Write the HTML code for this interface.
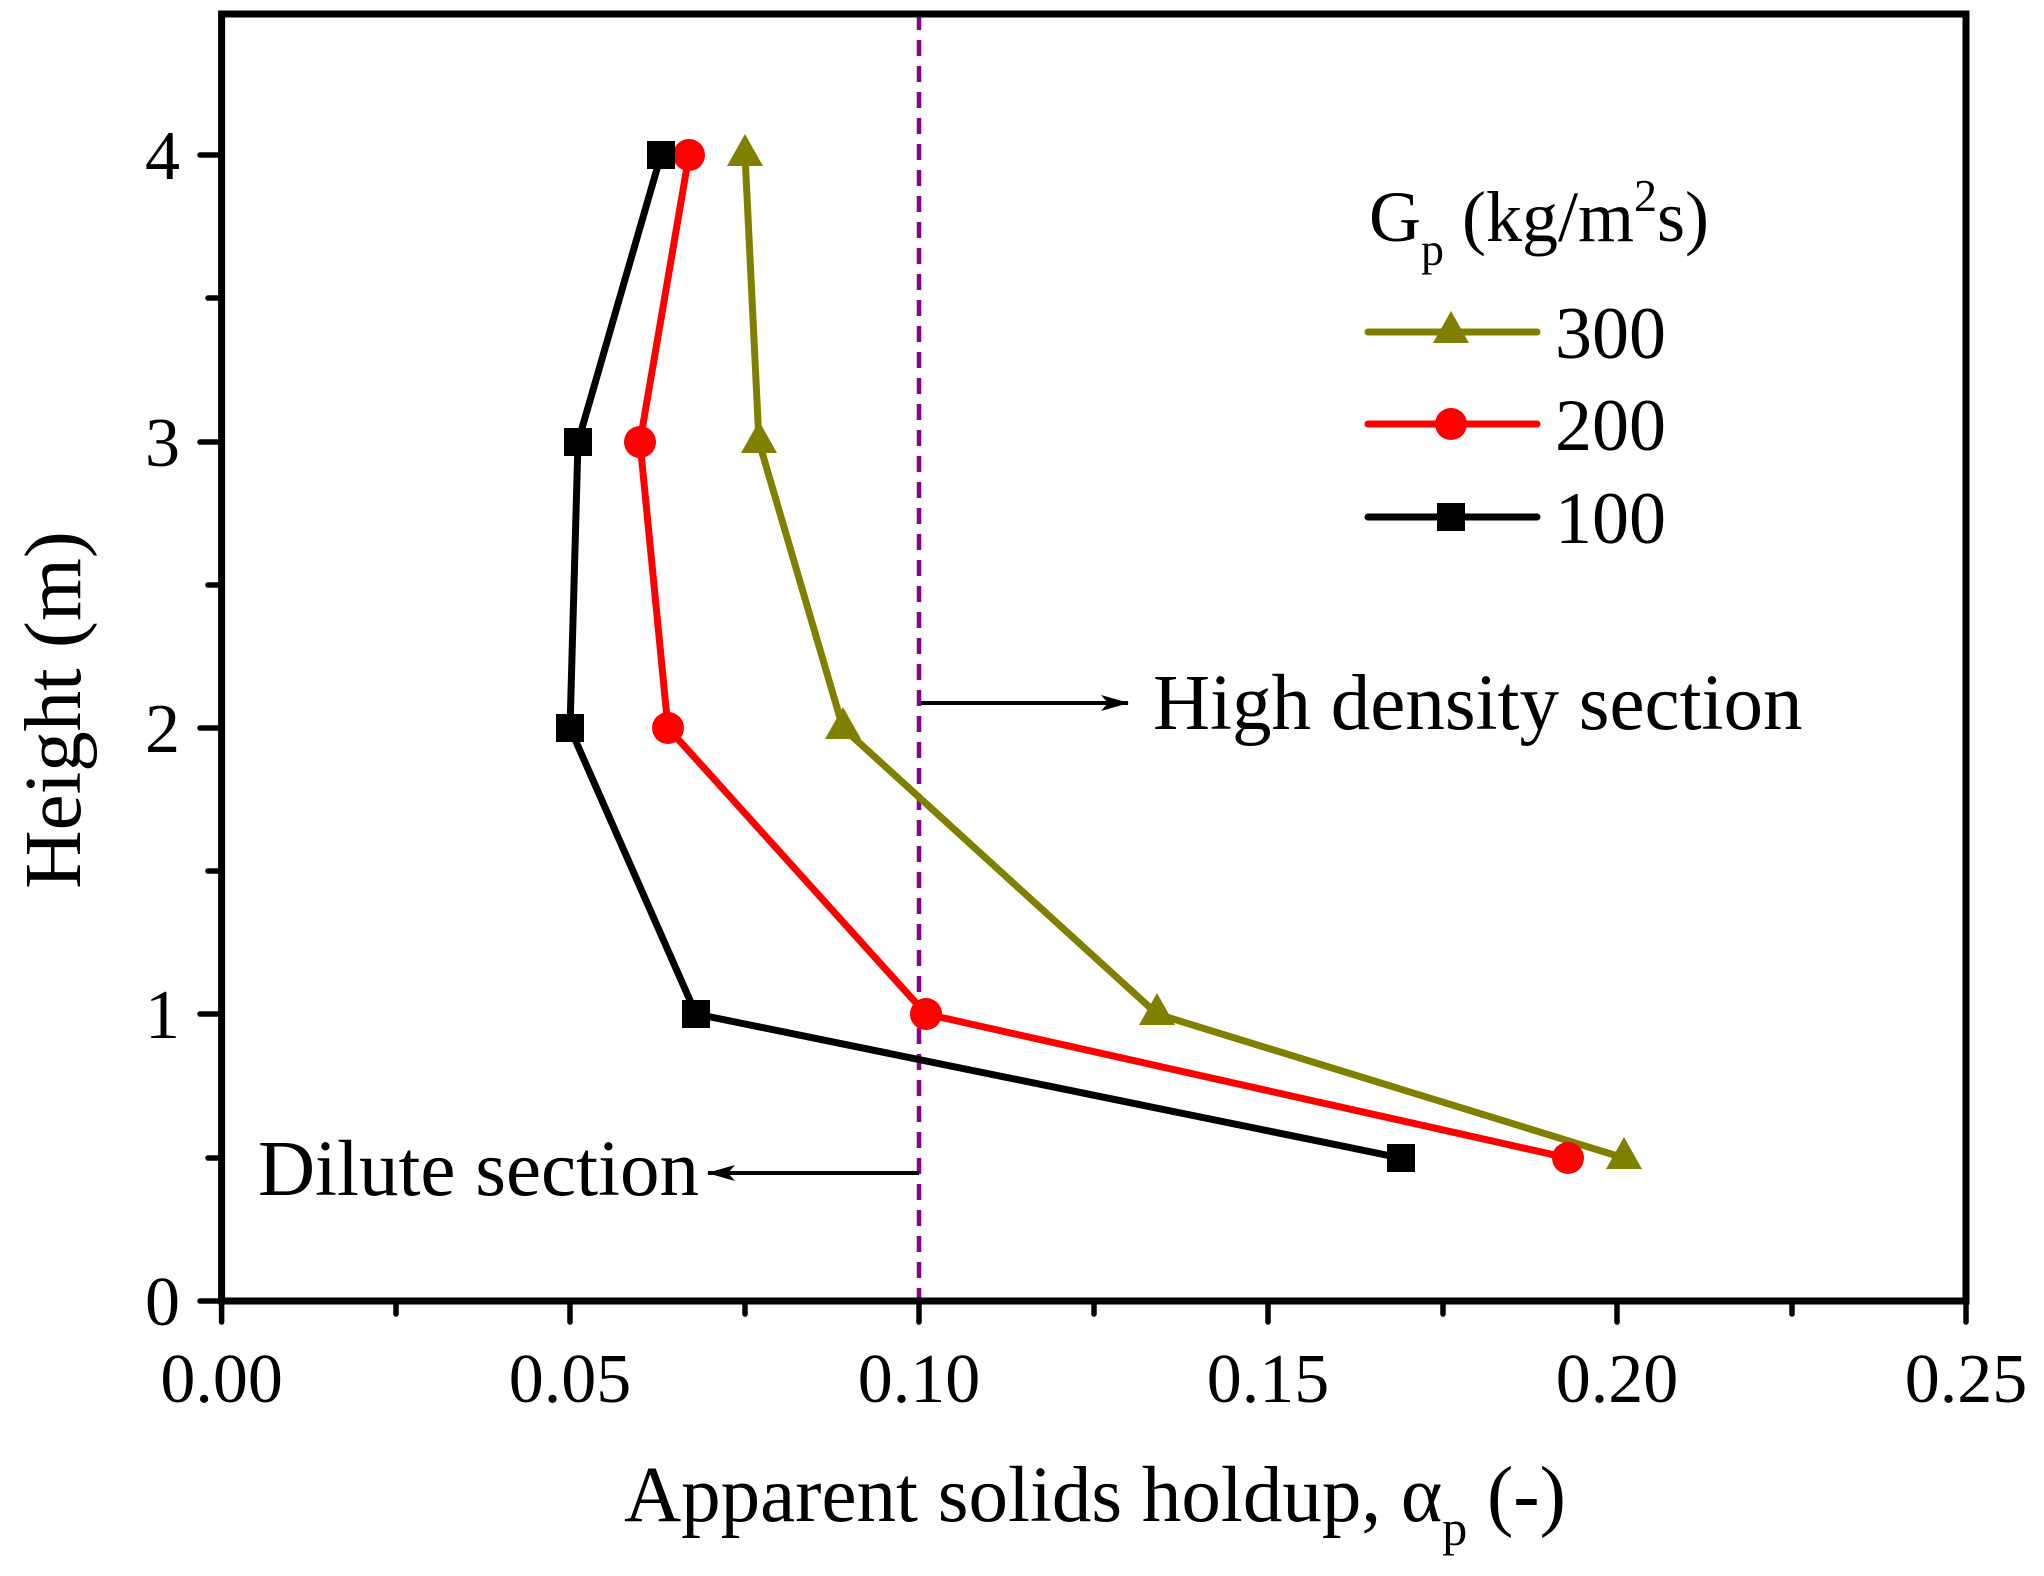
<!DOCTYPE html>
<html><head><style>body{margin:0;background:#fff}svg{display:block}</style></head><body>
<svg width="2044" height="1576" viewBox="0 0 2044 1576" xmlns="http://www.w3.org/2000/svg" font-family="Liberation Serif, serif">
<defs>
<marker id="ah" markerWidth="28" markerHeight="16" refX="27" refY="8" orient="auto" markerUnits="userSpaceOnUse"><path d="M0,0 L28,8 L0,16 L7,8 z" fill="#000"/></marker>
</defs>
<rect x="0" y="0" width="2044" height="1576" fill="#fff"/>
<line x1="919" y1="14" x2="919" y2="1301" stroke="#8B008B" stroke-width="4.5" stroke-dasharray="16,10"/>
<g fill="none" stroke-width="7" stroke-linejoin="round">
<polyline stroke="#808000" points="745,155 759,442 843,728 1157,1014 1624,1158"/>
<polyline stroke="#ff0000" points="689,155 640,442 668,728 926,1014 1568,1158"/>
<polyline stroke="#000" points="661,155 578,442 570,728 696,1014 1401,1158"/>
</g>
<g fill="#808000">
<polygon points="745,134 763,166 727,166"/><polygon points="759,421 777,453 741,453"/><polygon points="843,707 861,739 825,739"/><polygon points="1157,993 1175,1025 1139,1025"/><polygon points="1624,1137 1642,1169 1606,1169"/>
</g>
<g fill="#ff0000">
<circle cx="689" cy="155" r="16"/><circle cx="640" cy="442" r="16"/><circle cx="668" cy="728" r="16"/><circle cx="926" cy="1014" r="16"/><circle cx="1568" cy="1158" r="16"/>
</g>
<g fill="#000">
<rect x="647" y="141" width="28" height="28"/><rect x="564" y="428" width="28" height="28"/><rect x="556" y="714" width="28" height="28"/><rect x="682" y="1000" width="28" height="28"/><rect x="1387" y="1144" width="28" height="28"/>
</g>
<rect x="221.6" y="14" width="1744.4" height="1287" fill="none" stroke="#000" stroke-width="7"/>
<g stroke="#000" stroke-width="5.5" stroke-linecap="round">
<line x1="221.6" y1="1301" x2="221.6" y2="1322"/><line x1="396" y1="1301" x2="396" y2="1314"/>
<line x1="570" y1="1301" x2="570" y2="1322"/><line x1="745" y1="1301" x2="745" y2="1314"/>
<line x1="919" y1="1301" x2="919" y2="1322"/><line x1="1094" y1="1301" x2="1094" y2="1314"/>
<line x1="1268" y1="1301" x2="1268" y2="1322"/><line x1="1443" y1="1301" x2="1443" y2="1314"/>
<line x1="1617" y1="1301" x2="1617" y2="1322"/><line x1="1792" y1="1301" x2="1792" y2="1314"/>
<line x1="1966" y1="1301" x2="1966" y2="1322"/>
<line x1="221.6" y1="1301" x2="200" y2="1301"/><line x1="221.6" y1="1158" x2="208" y2="1158"/>
<line x1="221.6" y1="1014" x2="200" y2="1014"/><line x1="221.6" y1="871" x2="208" y2="871"/>
<line x1="221.6" y1="728" x2="200" y2="728"/><line x1="221.6" y1="585" x2="208" y2="585"/>
<line x1="221.6" y1="442" x2="200" y2="442"/><line x1="221.6" y1="298" x2="208" y2="298"/>
<line x1="221.6" y1="155" x2="200" y2="155"/>
</g>
<g font-size="70" text-anchor="middle">
<text x="221.6" y="1402">0.00</text><text x="570" y="1402">0.05</text><text x="919" y="1402">0.10</text>
<text x="1268" y="1402">0.15</text><text x="1617" y="1402">0.20</text><text x="1966" y="1402">0.25</text>
</g>
<g font-size="70" text-anchor="end">
<text x="180" y="1325">0</text><text x="180" y="1038">1</text><text x="180" y="752">2</text>
<text x="180" y="466">3</text><text x="180" y="179">4</text>
</g>
<text x="1095" y="1521" font-size="79" text-anchor="middle">Apparent solids holdup, α<tspan font-size="50" dy="24">p</tspan><tspan dy="-24"> (-)</tspan></text>
<text transform="translate(80,710) rotate(-90)" font-size="81" text-anchor="middle">Height (m)</text>
<text x="1369" y="241" font-size="72">G<tspan font-size="46" dy="24">p</tspan><tspan dy="-24"> (kg/m</tspan><tspan font-size="46" dy="-30">2</tspan><tspan dy="30">s)</tspan></text>
<line x1="1368" y1="332" x2="1537" y2="332" stroke="#808000" stroke-width="7" stroke-linecap="round"/>
<polygon points="1451,311 1469,343 1433,343" fill="#808000"/>
<line x1="1368" y1="424" x2="1537" y2="424" stroke="#ff0000" stroke-width="7" stroke-linecap="round"/>
<circle cx="1451" cy="424" r="16" fill="#ff0000"/>
<line x1="1368" y1="517" x2="1537" y2="517" stroke="#000" stroke-width="7" stroke-linecap="round"/>
<rect x="1437" y="503" width="28" height="28" fill="#000"/>
<g font-size="74"><text x="1555" y="358">300</text><text x="1555" y="450">200</text><text x="1555" y="543">100</text></g>
<line x1="921" y1="703" x2="1128" y2="703" stroke="#000" stroke-width="4" marker-end="url(#ah)"/>
<text x="1153" y="729" font-size="79">High density section</text>
<line x1="919" y1="1173" x2="708" y2="1173" stroke="#000" stroke-width="4" marker-end="url(#ah)"/>
<text x="258" y="1195" font-size="79">Dilute section</text>
</svg>
</body></html>
